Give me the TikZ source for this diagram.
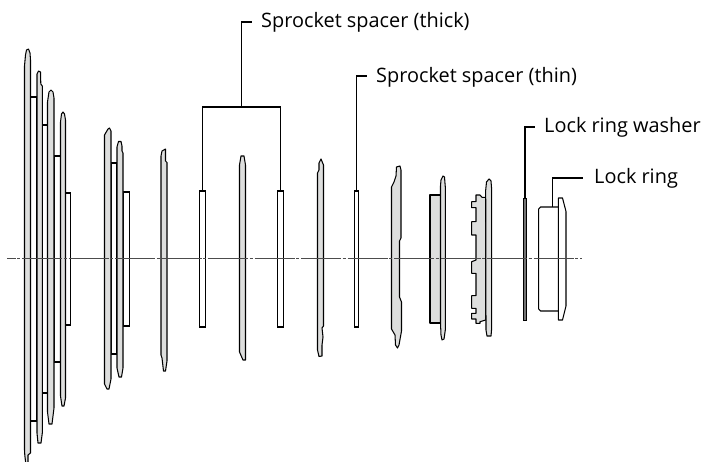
\documentclass[tikz,border=0pt]{standalone}
\usepackage{fontspec}
\setmainfont{Open Sans}
\definecolor{discgray}{RGB}{221,222,221}
\tikzset{
 disc/.style={draw=black,fill=discgray,line width=1.05pt,line join=round},
 spacerline/.style={draw=black,fill=white,line width=1.05pt},
 spacerbox/.style={draw=black,fill=white,line width=1.05pt,inner sep=0pt,outer sep=0pt,rectangle},
 leader/.style={draw=black,line width=1.3pt},
 axisline/.style={draw=black!70,line width=1pt,dash pattern=on 40pt off 1.6pt on 3pt off 1.9pt,dash phase=31.5pt},
 lab/.style={anchor=base west,inner sep=0pt,font=\fontsize{19.9pt}{22pt}\selectfont,text=black}
}
\begin{document}
\begin{tikzpicture}[x=1pt,y=-1pt]
\useasboundingbox (0,0) rectangle (704,462);
% flat spacers, first group
\foreach \xa/\xb/\ya/\yb in {30.5/36.7/97/421, 42.3/47.5/125/393, 54/60.5/156/362, 65.5/70.5/193/325, 111/117/163/354, 123/129.5/192/326}{
  \path[spacerline] (\xa,\ya) rectangle (\xb,\yb);
}
% sprockets
\path[disc] (28,463) -- (28,455) -- (30.5,453) -- (30.5,60) -- (30,53) -- (28.5,49) -- (26.5,50) -- (25.5,55) -- (24.5,66) -- (24.5,450) -- (24.8,455) -- (25.7,463);
\path[disc] (37,82) -- (37,74) -- (38.5,71) -- (40.5,72) -- (40.8,84) -- (42.3,86) -- (42.3,433) -- (41,443) -- (38,443) -- (37,433) -- cycle;
\path[disc] (47.5,102) -- (49,92) -- (51,90) -- (53,92) -- (54,98) -- (54,408) -- (52,424) -- (49,424) -- (47.5,412) -- cycle;
\path[disc] (60.5,122) -- (61.5,114) -- (63,112) -- (64.5,114) -- (65.5,120) -- (65.5,398) -- (64,406) -- (62,406) -- (60.5,396) -- cycle;
\path[disc] (104.5,135) -- (108,129) -- (109.5,128) -- (111,131) -- (111,379) -- (109,389) -- (107,389) -- (104.5,384) -- cycle;
\path[disc] (117,147) -- (118.5,141.5) -- (121,141.5) -- (122,146) -- (122,151) -- (123,153) -- (123,368) -- (121.5,377) -- (119,377) -- (117,368) -- cycle;
\path[disc] (161,156) -- (162,151) -- (165.5,149) -- (165.5,161) -- (167,162.5) -- (167,361) -- (165.5,371) -- (163.5,371) -- (162,358) -- (161,355) -- cycle;
% other sprockets
\path[disc] (239.5,165) -- (241,156) -- (244,156) -- (245.5,165) -- (245.5,360) -- (243,360) -- (239.5,352) -- cycle;
\path[disc] (317.5,173) -- (319,170) -- (319,163) -- (321,159) -- (323.5,165) -- (323.5,326) -- (322,328) -- (323,337) -- (322,345) -- (322,356) -- (319,356.5) -- (317.5,350) -- cycle;
\path[disc] (391.5,187) -- (394,182) -- (396,176) -- (396.5,167) -- (400,166) -- (401,170) -- (401,238) -- (399.5,241) -- (399.5,297) -- (401.5,302) -- (401.5,331) -- (399,345) -- (397.5,348) -- (395.5,345) -- (395,335) -- (391.5,329) -- cycle;
\path[disc] (430,195) rectangle (441,323);
\path[disc] (440.5,186) -- (441,180) -- (443,176) -- (444.5,177) -- (445.3,187) -- (445.3,330) -- (444,339) -- (442,340) -- (441,335) -- (440.5,323) -- cycle;
\path[disc] (485.7,197.3) -- (482,197.3) -- (480,195) -- (476,195) -- (476,201.7) -- (471.7,201.7) -- (471.7,207.7) -- (476,207.7) -- (476,221.7) -- (471.7,221.7) -- (471.7,235) -- (476,235) -- (476,260) -- (471.7,261.7) -- (471.7,273.3) -- (476,273.3) -- (476,295.7) -- (471.7,295.7) -- (471.7,308.3) -- (476,308.3) -- (476,313.3) -- (471.7,313.3) -- (471.7,319) -- (476,319) -- (476,323.3) -- (480,323.3) -- (480,321.7) -- (485.7,320) -- cycle;
\path[disc] (485.7,190) -- (486.5,182) -- (489,179) -- (491,181) -- (491.7,190) -- (491.7,328) -- (491,336) -- (487,336) -- (486,330) -- cycle;
% plain spacers with leaders
\node[spacerbox,minimum width=6.5pt,minimum height=136pt] (thickA) at (202.7,259) {};
\node[spacerbox,minimum width=6.5pt,minimum height=136pt] (thickB) at (280.7,259) {};
\node[spacerbox,minimum width=3.6pt,minimum height=136pt] (thin) at (356.5,259) {};
\node[draw=black,fill=black!55,line width=0.8pt,inner sep=0pt,minimum width=2.6pt,minimum height=122pt] (washer) at (525,259) {};
% lock ring
\path[disc,fill=white] (558.3,207) -- (540.5,207) -- (538.7,209) -- (538.7,309) -- (540.5,311) -- (558.3,311);
\path[disc,fill=white] (558.3,198) -- (562.5,198) -- (566,211.5) -- (566,306) -- (562.5,320) -- (558.3,320) -- cycle;
\coordinate (ringtop) at (552.7,207);
% labels
\node[lab] (lthick) at (261,28) {Sprocket spacer (thick)};
\node[lab] (lthin) at (376,82.5) {Sprocket spacer (thin)};
\node[lab] (lwasher) at (544,133) {Lock ring washer};
\node[lab] (lring) at (594,184) {Lock ring};
\coordinate (thickbar) at (241.7,107);
\coordinate (thickend) at (252,22);
\coordinate (thinend) at (367,76);
\coordinate (washerend) at (535,127);
\coordinate (ringend) at (583,178);
% leaders
\draw[leader] (thickA.north) |- (thickbar) -| (thickB.north);
\draw[leader] (thickbar) |- (thickend);
\draw[leader] (thin.north) |- (thinend);
\draw[leader] (washer.north) |- (washerend);
\draw[leader] (ringtop) |- (ringend);
% axis
\coordinate (axisL) at (7,259);
\coordinate (axisR) at (582,259);
\draw[axisline] (axisL) -- (axisR);
\end{tikzpicture}
\end{document}
